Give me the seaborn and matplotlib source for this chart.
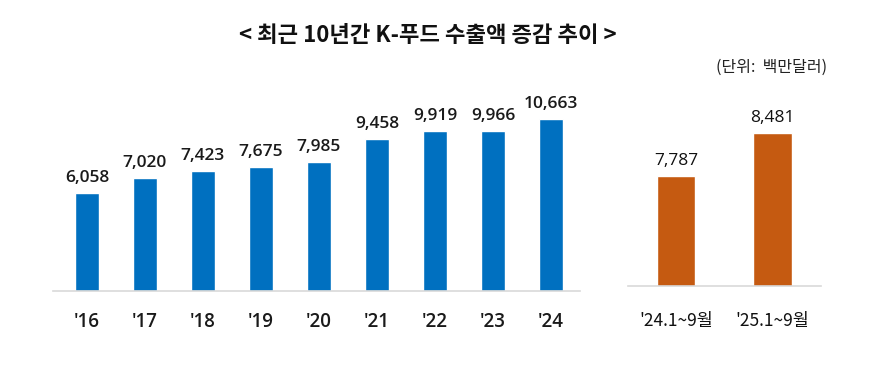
import matplotlib
matplotlib.use("Agg")
import matplotlib.pyplot as plt
import seaborn as sns
import pandas as pd

sns.set_theme(style="white")
plt.rcParams['font.family'] = ['Noto Sans CJK KR', 'DejaVu Sans']

# Data
years = ["'16", "'17", "'18", "'19", "'20", "'21", "'22", "'23", "'24"]
annual_exports = [6058, 7020, 7423, 7675, 7985, 9458, 9919, 9966, 10663]
periods = ["'24.1~9월", "'25.1~9월"]
period_exports = [7787, 8481]

title = "< 최근 10년간 K-푸드 수출액 증감 추이 >"
unit = "(단위:  백만달러)"

BLUE = "#0070C0"
ORANGE = "#C55A11"
LINE = "#D9D9D9"

W, H = 883, 365
fig = plt.figure(figsize=(W / 100, H / 100), dpi=100)
fig.patch.set_facecolor("white")

def px_axes(left, right, bottom_px, top_px):
    return fig.add_axes([left / W, 1 - bottom_px / H, (right - left) / W, (bottom_px - top_px) / H])

# Left chart
ax1 = px_axes(53, 580, 290.7, 100)
df1 = pd.DataFrame({"year": years, "value": annual_exports})
sns.barplot(data=df1, x="year", y="value", color=BLUE, width=0.405, saturation=1, ax=ax1)
ax1.set_xlim(-0.586, 8.5)
ax1.set_ylim(0, 11867)
ax1.bar_label(ax1.containers[0], labels=[f"{v:,}" for v in annual_exports], padding=5,
              fontsize=12.5, fontweight="semibold", color="#1a1a1a", family=["Open Sans", "DejaVu Sans"])

# Right chart
ax2 = px_axes(627.75, 820.75, 285.7, 100)
df2 = pd.DataFrame({"period": periods, "value": period_exports})
sns.barplot(data=df2, x="period", y="value", color=ORANGE, width=0.4, saturation=1, ax=ax2)
ax2.set_xlim(-0.5, 1.5)
ax2.set_ylim(6000, 9020)
ax2.bar_label(ax2.containers[0], labels=[f"{v:,}" for v in period_exports], padding=5,
              fontsize=12.5, color="#111111", family=["Open Sans", "DejaVu Sans"])

for ax in (ax1, ax2):
    ax.set_xlabel("")
    ax.set_ylabel("")
    ax.set_yticks([])
    ax.set_facecolor("none")
    for s in ("top", "left", "right"):
        ax.spines[s].set_visible(False)
    ax.spines["bottom"].set_color(LINE)
    ax.spines["bottom"].set_linewidth(1.2)
    ax.tick_params(axis="x", length=0)

for lbl in ax1.get_xticklabels():
    lbl.set_fontsize(13.5)
    lbl.set_fontweight("semibold")
    lbl.set_family(["Open Sans", "DejaVu Sans"])
    lbl.set_color("#1a1a1a")
for lbl in ax2.get_xticklabels():
    lbl.set_fontsize(12.5)
    lbl.set_family(["Noto Sans CJK KR", "DejaVu Sans"])
    lbl.set_color("#111111")
ax1.tick_params(axis="x", pad=15)
ax2.tick_params(axis="x", pad=19)

fig.text(428 / W, 1 - 35 / H, title, ha="center", va="center", fontsize=16,
         fontweight="bold", color="#111111")
fig.text(772 / W, 1 - 67 / H, unit, ha="center", va="center", fontsize=11.5, color="#222222")

fig.savefig("out.png", dpi=100, facecolor="white")
